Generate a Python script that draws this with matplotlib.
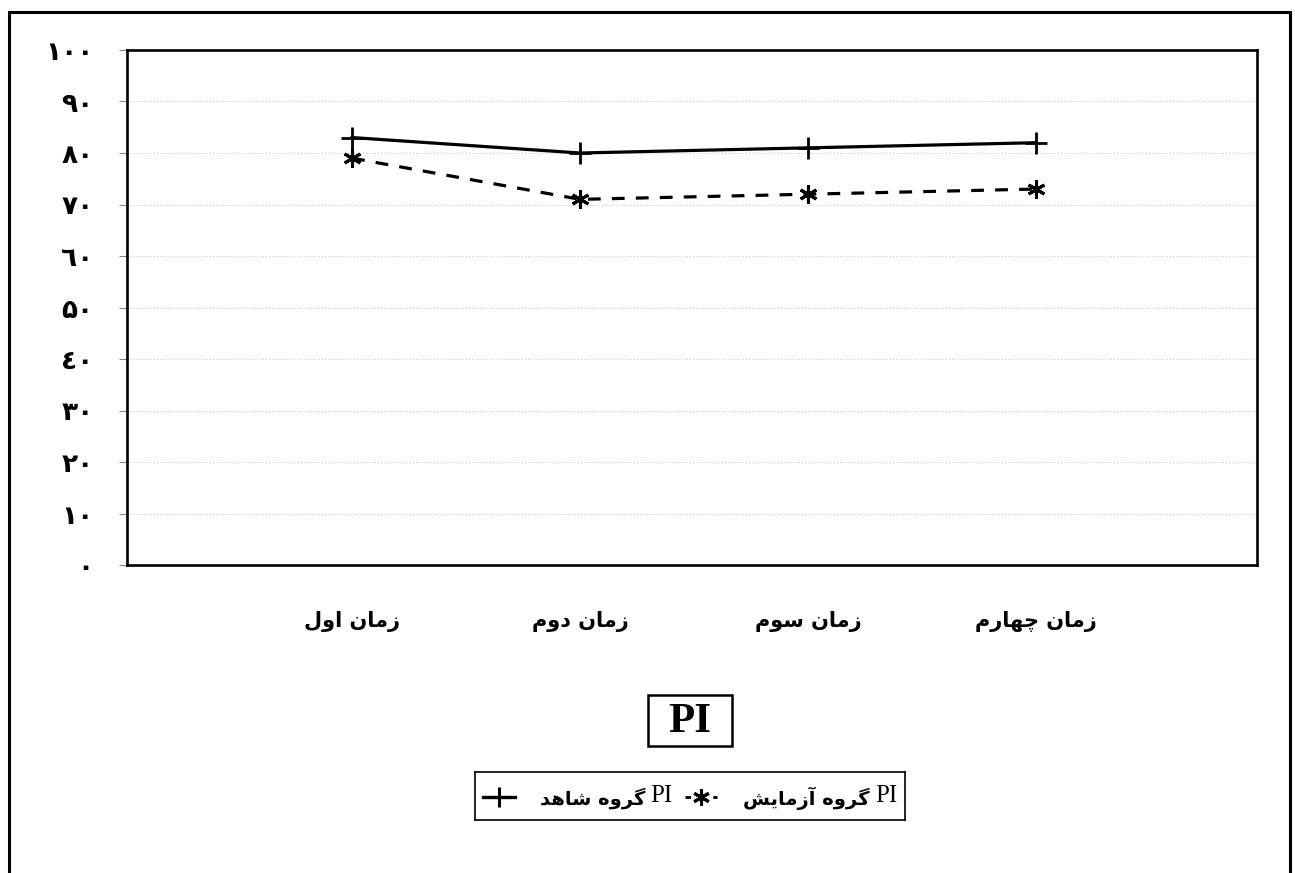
import matplotlib

matplotlib.use("Agg")
import matplotlib.pyplot as plt
from matplotlib.patches import Rectangle

W, H = 1295, 873

# Persian labels are written in visual order with presentation forms,
# since matplotlib does not shape Arabic script
time_labels = [
    "\uFEDD\uFEED\uFE8D \uFEE5\uFE8E\uFEE3\uFEAF",            # زمان اول
    "\uFEE1\uFEED\uFEA9 \uFEE5\uFE8E\uFEE3\uFEAF",            # زمان دوم
    "\uFEE1\uFEEE\uFEB3 \uFEE5\uFE8E\uFEE3\uFEAF",            # زمان سوم
    "\uFEE1\uFEAD\uFE8E\uFEEC\uFB7C \uFEE5\uFE8E\uFEE3\uFEAF",  # زمان چهارم
]
times = [0, 1, 2, 3]
control_pi = [83, 80, 81, 82]
experiment_pi = [79, 71, 72, 73]

control_label = "\uFEAA\uFEEB\uFE8E\uFEB7 \uFEE9\uFEED\uFEAE\uFB94"          # گروه شاهد
experiment_label = "\uFEB6\uFBFE\uFE8E\uFEE3\uFEAF\uFE81 \uFEE9\uFEED\uFEAE\uFB94"  # گروه آزمایش

y_ticks = list(range(0, 101, 10))
FA_DIGITS = {"0": "\u0660", "1": "\u0661", "2": "\u0662", "3": "\u0663",
             "4": "\u0664", "5": "\u06F5", "6": "\u0666", "7": "\u0667",
             "8": "\u0668", "9": "\u0669"}
y_tick_labels = ["".join(FA_DIGITS[c] for c in str(v)) for v in y_ticks]

plt.rcParams["font.family"] = ["DejaVu Sans"]

fig = plt.figure(figsize=(W / 100, H / 100), dpi=100)

# outer page frame
fig.add_artist(Rectangle((9 / W, -0.05), (1290 - 9) / W, 1 - 12 / H + 0.05,
                         transform=fig.transFigure, fill=False,
                         edgecolor="black", linewidth=2.2))

ax = fig.add_axes([127 / W, 1 - 565 / H, (1257 - 127) / W, (565 - 50) / H])
ax.plot(times, control_pi, color="black", linewidth=2.3, marker="+",
        markersize=16, markeredgewidth=2)
ax.plot(times, experiment_pi, color="black", linewidth=2.3,
        linestyle=(0, (4, 3.5)), marker=(6, 2, 0), markersize=13,
        markeredgewidth=2.2)

ax.set_xlim(-0.987, 3.969)
ax.set_ylim(0, 100)
ax.set_yticks(y_ticks)
ax.set_yticklabels(y_tick_labels, fontsize=19, fontweight="bold")
ax.set_xticks(times)
ax.set_xticklabels(time_labels, fontsize=15, fontweight="bold")
ax.tick_params(axis="x", length=0, pad=33)
ax.tick_params(axis="y", length=6, width=0.8, color="#888888", pad=18)
ax.yaxis.grid(True, linestyle=":", color="#cccccc", linewidth=0.8)
for s in ax.spines.values():
    s.set_linewidth(1.9)

# boxed title
fig.add_artist(Rectangle((648 / W, 1 - 746 / H), 84 / W, 51 / H,
                         transform=fig.transFigure, fill=False,
                         edgecolor="black", linewidth=1.8))
fig.text(690 / W, 1 - 722 / H, "PI", fontsize=31, fontweight="bold",
         family="Liberation Serif", ha="center", va="center")

# legend box drawn by hand (marker first, Persian text, then PI)
lax = fig.add_axes([475 / W, 1 - 820 / H, 430 / W, 48 / H])
lax.set_xlim(0, 430)
lax.set_ylim(0, 48)
lax.set_xticks([])
lax.set_yticks([])
for s in lax.spines.values():
    s.set_linewidth(1.2)
lax.plot([8, 40], [23, 23], color="black", linewidth=2.4)
lax.plot([24], [23], color="black", marker="+", markersize=15, markeredgewidth=2.2)
lax.text(170, 22, control_label, fontsize=14, fontweight="bold",
         ha="right", va="center")
lax.text(175, 24, "PI", fontsize=18, family="Liberation Serif",
         ha="left", va="center")
lax.plot([210, 242], [23, 23], color="black", linewidth=2.0,
         linestyle=(0, (2, 3)))
lax.plot([226], [23], color="black", marker=(6, 2, 0), markersize=12,
         markeredgewidth=2.2)
lax.text(395, 22, experiment_label, fontsize=14, fontweight="bold",
         ha="right", va="center")
lax.text(400, 24, "PI", fontsize=18, family="Liberation Serif",
         ha="left", va="center")

fig.savefig("out.png", dpi=100)
